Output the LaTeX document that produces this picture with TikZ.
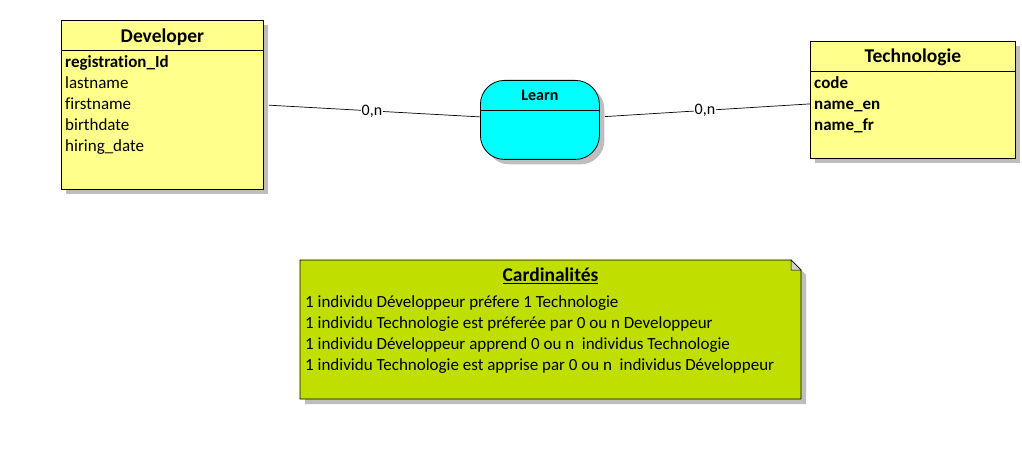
\documentclass[tikz,border=0pt]{standalone}
\usepackage{fontspec}
\setmainfont{Carlito}[Ligatures=CommonOff]
\usetikzlibrary{positioning, shadows, calc}
\definecolor{entYellow}{RGB}{255,255,140}
\definecolor{relCyan}{RGB}{0,255,255}
\definecolor{noteGreen}{RGB}{192,222,0}
\definecolor{shadowGray}{RGB}{190,190,190}
\tikzset{
  shade5/.style={drop shadow={shadow xshift=5pt, shadow yshift=-5pt,
    fill=shadowGray, opacity=1}},
  entity/.style={rectangle, draw=black, line width=0.8pt, fill=entYellow,
    shade5, anchor=north west, inner sep=0pt},
  relation/.style={rectangle, rounded corners=24pt, draw=black, line width=0.8pt,
    fill=relCyan, shade5, anchor=north west, inner sep=0pt},
  etitle/.style={font=\fontsize{19.5}{22}\selectfont\bfseries, inner sep=0pt,
    minimum height=30pt},
  rtitle/.style={font=\fontsize{16}{18}\selectfont\bfseries, inner sep=0pt,
    minimum height=30pt},
  attrs/.style={font=\fontsize{17}{21}\selectfont, align=left,
    anchor=north west, inner xsep=4pt, inner ysep=5pt},
  card/.style={font=\fontsize{16}{17}\selectfont, fill=white, inner sep=1pt},
  link/.style={draw=black, line width=0.7pt},
}

\begin{document}
\begin{tikzpicture}[x=1pt, y=-1pt]
\useasboundingbox (0,0) rectangle (1022,457);

% entities
\node[entity, minimum width=202pt, minimum height=169pt] (dev) at (61,20) {};
\node[etitle, below=0pt of dev.north, yshift=-1.5pt] (devT) {Developer};
\draw[line width=0.8pt] (dev.west |- 0,50) -- (dev.east |- 0,50);
\node[attrs] (devA) at (dev.west |- 0,50)
  {\textbf{registration\_Id}\\lastname\\firstname\\birthdate\\hiring\_date};

\node[entity, minimum width=205pt, minimum height=117pt] (tech) at (810,41) {};
\node[etitle, below=0pt of tech.north, yshift=-1pt] (techT) {Technologie};
\draw[line width=0.8pt] (tech.west |- 0,71) -- (tech.east |- 0,71);
\node[attrs, font=\fontsize{17}{21}\selectfont\bfseries] (techA) at (tech.west |- 0,71)
  {code\\name\_en\\name\_fr};

% association
\node[relation, minimum width=119pt, minimum height=79pt] (learn) at (480,80) {};
\node[rtitle, below=0pt of learn.north] (learnT) {Learn};
\draw[line width=0.8pt] (learn.west |- learnT.south) -- (learn.east |- learnT.south);

\draw[link, shorten <=5pt] (dev.east) -- node[card] {0,n} ([yshift=3pt]learn.west);
\draw[link, shorten <=5pt] ([yshift=3pt]learn.east) -- node[card] {0,n} ([yshift=-4pt]tech.west);

% note
\fill[shadowGray] (305,265) -- (796,265) -- (806,275) -- (806,404) -- (305,404) -- cycle;
\draw[fill=noteGreen, line width=0.8pt] (300,260) -- (791,260) -- (801,270)
  -- (801,399) -- (300,399) -- cycle;
\draw[fill=shadowGray!70, line width=0.5pt] (791,260) -- (791,270) -- (801,270) -- cycle;
\node[etitle, minimum height=0pt] (noteT) at (550.5,276) {\underline{Cardinalités}};
\node[attrs] (noteA) at (301,290)
  {1 individu Développeur préfere 1 Technologie\\
   1 individu Technologie est préferée par 0 ou n Developpeur\\
   1 individu Développeur apprend 0 ou n\ \ individus Technologie\\
   1 individu Technologie est apprise par 0 ou n\ \ individus Développeur};
\end{tikzpicture}
\end{document}
